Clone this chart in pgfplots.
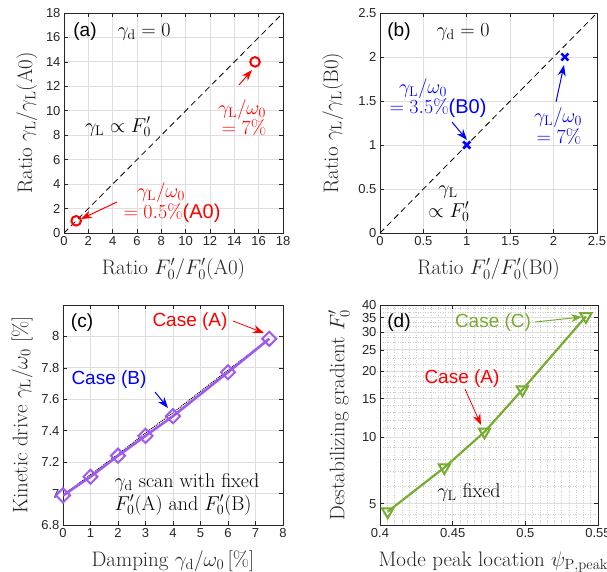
\RequirePackage{fix-cm}
\documentclass[border=0pt]{standalone}
\usepackage{fontspec}
\usepackage{pgfplots}
\pgfplotsset{compat=1.18}
\usetikzlibrary{arrows.meta}
\newfontfamily\arial{Liberation Sans}
\definecolor{axgray}{RGB}{38,38,38}
\definecolor{gridc}{RGB}{222,222,222}
\definecolor{mpurple}{RGB}{160,90,240}
\definecolor{mgreen}{RGB}{119,172,48}
\definecolor{mred}{RGB}{255,0,0}
\definecolor{mblue}{RGB}{0,0,255}
\pgfplotsset{
  myax/.style={
    scale only axis,
    anchor=south west,
    axis line style={axgray, line width=0.9pt},
    tick style={axgray, line width=0.7pt},
    major tick length=4pt,
    minor tick length=2pt,
    tick align=inside,
    grid=major,
    major grid style={gridc, line width=0.9pt},
    ticklabel style={font=\arial\fontsize{13}{15}\selectfont, text=axgray},
    /pgf/number format/assume math mode=true,
    label style={font=\fontsize{21}{24}\selectfont, text=axgray},
    xlabel style={at={(axis description cs:0.5,0)}, anchor=center, yshift=-36pt},
    axis on top=false,
  },
}
\tikzset{
  ann/.style={font=\fontsize{20}{22}\selectfont},
  sans/.style={font=\arial\fontsize{19}{21}\selectfont},
  arr/.style={line width=1pt, -{Stealth[length=11pt,width=8pt]}},
}
\begin{document}
\begin{tikzpicture}[x=1pt,y=1pt]
\useasboundingbox (0,0) rectangle (607,571);
\clip (0,0) rectangle (607,571);

% ---------------- (a)
\begin{axis}[myax, at={(64pt,338pt)}, width=219pt, height=220pt,
  xmin=0, xmax=18, ymin=0, ymax=18,
  xtick={0,2,...,18}, ytick={0,2,...,18},
  xlabel={Ratio $F_0'/F_0'(\mathrm{A0})$},
  ylabel={Ratio $\gamma_{\mathrm{L}}/\gamma_{\mathrm{L}}(\mathrm{A0})$},
  ylabel style={at={(axis description cs:-0.169,0.5)}, anchor=center},
]
\addplot[black, line width=0.8pt, dash pattern=on 6pt off 4pt] coordinates {(0,0) (18,18)};
\addplot[only marks, mark=o, mark size=4.8pt, mred, line width=2pt] coordinates {(1,1) (15.7,14)};
\end{axis}

% ---------------- (b)
\begin{axis}[myax, at={(380pt,338pt)}, width=217pt, height=220pt,
  xmin=0, xmax=2.5, ymin=0, ymax=2.5,
  xtick={0,0.5,...,2.5}, ytick={0,0.5,...,2.5},
  xlabel={Ratio $F_0'/F_0'(\mathrm{B0})$},
  ylabel={Ratio $\gamma_{\mathrm{L}}/\gamma_{\mathrm{L}}(\mathrm{B0})$},
  ylabel style={at={(axis description cs:-0.217,0.5)}, anchor=center},
]
\addplot[black, line width=0.8pt, dash pattern=on 6pt off 4pt] coordinates {(0,0) (2.5,2.5)};
\addplot[only marks, mark=x, mark size=5pt, mblue, line width=2.6pt] coordinates {(1,1) (2.13,2.0)};
\end{axis}

% ---------------- (c)
\begin{axis}[myax, at={(63pt,46pt)}, width=220pt, height=220pt,
  xmin=0, xmax=8, ymin=6.8, ymax=8.2,
  xtick={0,1,...,8}, ytick={6.8,7,7.2,7.4,7.6,7.8,8},
  yticklabels={6.8,7,7.2,7.4,7.6,7.8,8},
  xlabel={Damping $\gamma_{\mathrm{d}}/\omega_0\,[\%]$},
  ylabel={Kinetic drive $\gamma_{\mathrm{L}}/\omega_0\;[\%]$},
  ylabel style={at={(axis description cs:-0.186,0.5)}, anchor=center},
]
\addplot[black, line width=1pt, densely dotted] coordinates {(0,6.99) (1,7.12) (2,7.25) (3,7.385) (4,7.515) (6,7.785) (7.5,7.985)};
\addplot[mpurple, line width=2.6pt, mark=square, mark size=5pt, mark options={rotate=45, solid, line width=2pt, fill=none}] coordinates {(0,6.988) (1,7.107) (2,7.241) (3,7.367) (4,7.493) (6,7.772) (7.5,7.985)};
\end{axis}

% ---------------- (d)
\begin{axis}[myax, at={(380pt,46pt)}, width=218pt, height=220pt,
  ymode=log, xmin=0.4, xmax=0.55, ymin=4, ymax=40,
  xtick={0.4,0.45,0.5,0.55}, xticklabels={0.4,0.45,0.5,0.55},
  ytick={5,10,15,20,25,30,35,40}, yticklabels={5,10,15,20,25,30,35,40},
  minor xtick={0.405,0.41,0.415,0.42,0.425,0.43,0.435,0.44,0.445,0.455,0.46,0.465,0.47,0.475,0.48,0.485,0.49,0.495,0.505,0.51,0.515,0.52,0.525,0.53,0.535,0.54,0.545},
  minor ytick={4,4.5,6,7,8,9,11,12,13,14,16,17,18,19,21.5,23,27,28.5,32,33.5,37,38.5},
  grid=both,
  minor grid style={gray!40, line width=0.5pt, dotted},
  minor tick length=0pt,
  log basis y=10,
  xlabel={Mode peak location $\psi_{\mathrm{P,peak}}$},
  xlabel style={at={(axis description cs:0.52,0)}, yshift=-1pt},
  ylabel={Destabilizing gradient $F_0'$},
  ylabel style={at={(axis description cs:-0.188,0.5)}, anchor=center},
]
\addplot[mgreen, line width=2.2pt, mark=triangle, mark size=6.5pt, mark options={rotate=180, solid, line width=2pt, fill=none}] coordinates {(0.4053,4.6) (0.4443,7.3) (0.4719,10.6) (0.498,16.5) (0.5417,35.5)};
\end{axis}

% ---------------- annotations (a)
\node[sans, text=black] at (85,539) {(a)};
\node[ann] at (144,539) {$\gamma_{\mathrm{d}}=0$};
\node[ann] at (118,444) {$\gamma_{\mathrm{L}}\propto F_0'$};
\node[ann, text=mred] at (242,461) {$\gamma_{\mathrm{L}}/\omega_0$};
\node[ann, text=mred] at (244,443) {$=7\%$};
\draw[arr, mred] (239,486) -- (252,501);
\node[ann, text=mred] at (161,378) {$\gamma_{\mathrm{L}}/\omega_0$};
\node[ann, text=mred] at (172,358) {$=0.5\%${\arial (A0)}};
\draw[arr, mred] (117,369) -- (81,352);

% ---------------- annotations (b)
\node[sans, text=black] at (399,539) {(b)};
\node[ann] at (463,539) {$\gamma_{\mathrm{d}}=0$};
\node[ann, text=mblue] at (423,482) {$\gamma_{\mathrm{L}}/\omega_0$};
\node[ann, text=mblue] at (438,463) {$=3.5\%${\arial (B0)}};
\draw[arr, mblue] (452,449) -- (467,431);
\node[ann, text=mblue] at (558,453) {$\gamma_{\mathrm{L}}/\omega_0$};
\node[ann, text=mblue] at (559,434) {$=7\%$};
\draw[arr, mblue] (556,469) -- (564,506);
\node[ann] at (448,379) {$\gamma_{\mathrm{L}}$};
\node[ann] at (449,359) {$\propto F_0'$};

% ---------------- annotations (c)
\node[sans, text=black] at (82,248) {(c)};
\node[sans, text=mred] at (190,249) {Case (A)};
\draw[arr, mred, line width=0.8pt] (233,250) -- (264,238);
\node[sans, text=mblue] at (109,191) {Case (B)};
\draw[arr, mblue] (155,179) -- (168,163);
\node[ann, anchor=west] at (111,89) {$\gamma_{\mathrm{d}}$ scan with fixed};
\node[ann, anchor=west] at (111,66) {$F_0'$(A) and $F_0'$(B)};

% ---------------- annotations (d)
\node[sans, text=black] at (399,248) {(d)};
\node[sans, text=mgreen] at (493,248) {Case (C)};
\draw[arr, mgreen] (535,249) -- (582,254);
\node[sans, text=mred] at (462,192) {Case (A)};
\draw[arr, mred, line width=0.8pt] (465,182) -- (481,146);
\node[ann] at (469,79) {$\gamma_{\mathrm{L}}$ fixed};
\end{tikzpicture}
\end{document}
